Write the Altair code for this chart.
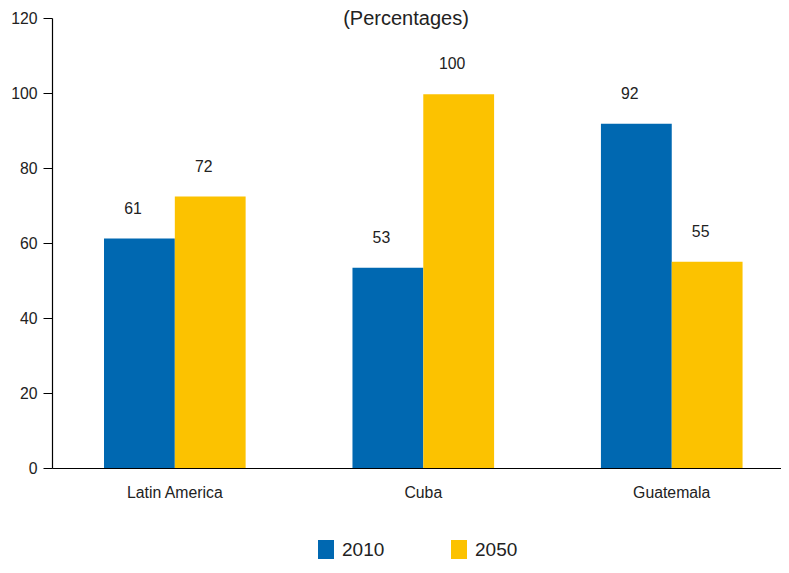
import altair as alt
import pandas as pd

regions = ["Latin America", "Cuba", "Guatemala"]
years = ["2010", "2050"]
values_2010 = [61.2, 53.4, 91.8]
values_2050 = [72.4, 99.7, 55.0]
colors = ["#0068b1", "#fcc200"]
y_ticks = [0, 20, 40, 60, 80, 100, 120]
subtitle = "(Percentages)"

rows = []
for r, a, b in zip(regions, values_2010, values_2050):
    rows.append({"region": r, "year": "2010", "value": a})
    rows.append({"region": r, "year": "2050", "value": b})
df = pd.DataFrame(rows)

FONT = "Liberation Sans"

x_enc = alt.X("region:N", sort=regions,
              scale=alt.Scale(paddingInner=0.43, paddingOuter=0.182, align=0.575),
              axis=alt.Axis(title=None, labelAngle=0, ticks=False, labelPadding=17,
                            labelFontSize=15.8, labelColor="#222", labelFont=FONT,
                            domainColor="#000", domainWidth=1.2))
xo_enc = alt.XOffset("year:N", sort=years, scale=alt.Scale(paddingInner=0, paddingOuter=0))
y_enc = alt.Y("value:Q", scale=alt.Scale(domain=[0, 120], nice=False),
              axis=alt.Axis(title=None, values=y_ticks, grid=False, tickSize=9,
                            tickColor="#000", domainColor="#000", domainWidth=1.2,
                            labelFontSize=15.8, labelColor="#222", labelFont=FONT,
                            labelPadding=6))

base = alt.Chart(df)

bars = base.mark_bar().encode(
    x=x_enc, xOffset=xo_enc, y=y_enc,
    color=alt.Color("year:N", sort=years, scale=alt.Scale(domain=years, range=colors),
                    legend=alt.Legend(title=None, orient="none", legendX=264, legendY=522,
                                      direction="horizontal", symbolType="M-0.8,-1H0.8V1H-0.8Z",
                                      symbolSize=400, symbolStrokeWidth=0, labelFontSize=19,
                                      labelFont=FONT, labelColor="#222", labelOffset=6,
                                      columnPadding=64, padding=0)),
)

labels = base.mark_text(dy=-30, dx=-6.5, fontSize=15.8, font=FONT, color="#222",
                        baseline="middle").encode(
    x=alt.X("region:N", sort=regions), xOffset=alt.XOffset("year:N", sort=years),
    y="value:Q", text=alt.Text("value:Q", format=".0f"),
)

title = alt.Chart(pd.DataFrame({"t": [subtitle]})).mark_text(
    fontSize=20, font=FONT, color="#222", baseline="top", align="center"
).encode(text="t:N", x=alt.value(354), y=alt.value(-9))

chart = alt.layer(bars, labels, title).properties(
    width=729, height=450,
    autosize=alt.AutoSizeParams(type="none"),
    padding={"left": 44, "top": 10, "right": 0, "bottom": 91},
).configure_view(stroke=None)

chart.save("out.html", embed_options={"renderer": "svg", "actions": False})
